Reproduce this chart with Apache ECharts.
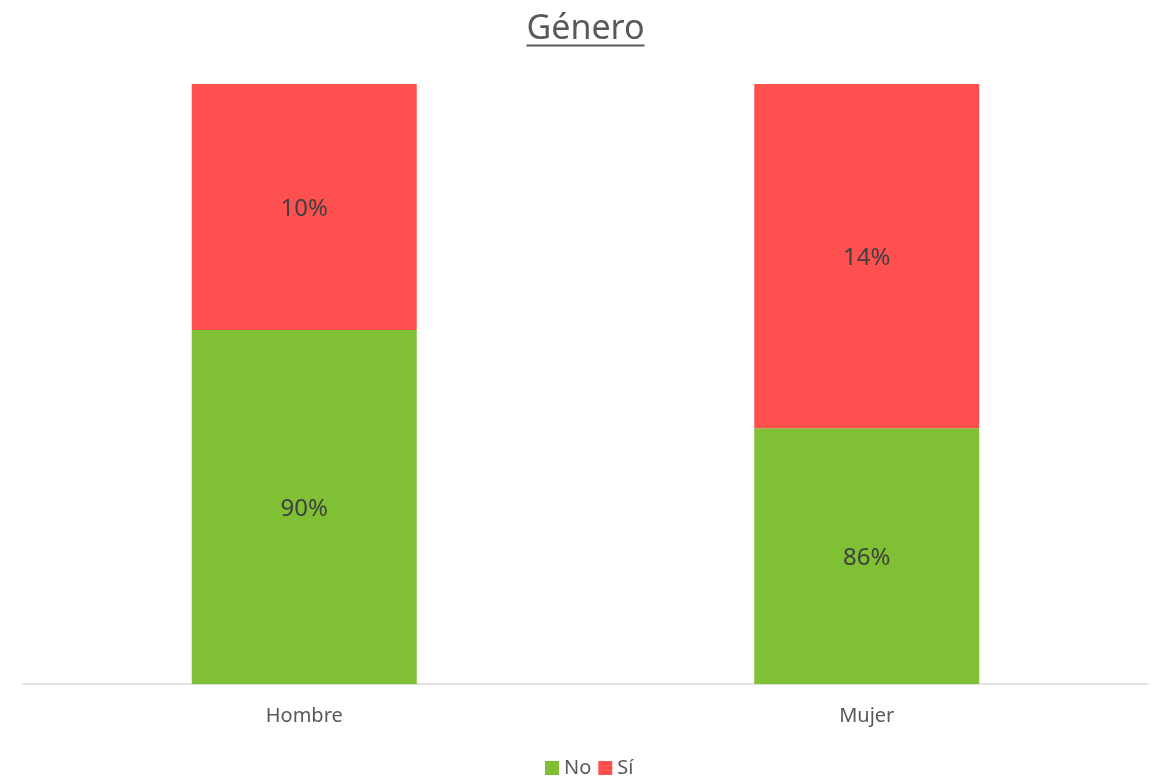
<!DOCTYPE html>
<html>
<head>
<meta charset="utf-8">
<script src="https://cdn.jsdelivr.net/npm/echarts@6/dist/echarts.min.js"></script>
<style>
  html, body { margin: 0; padding: 0; background: #fff; }
  #chart { width: 1153px; height: 779px; }
</style>
</head>
<body>
<div id="chart"></div>
<script>
// Gender breakdown: share answering "No" / "Sí"
const categories = ['Hombre', 'Mujer'];
const seriesNames = ['No', 'Sí'];
const noValues = [90, 86];
const siValues = [10, 14];
const titleText = 'Género';

const FONT = '"Noto Sans", "Open Sans", sans-serif';
const TITLE_SIZE = 34;
const GRID_LEFT = 23, GRID_RIGHT = 5, WIDTH = 1153;
const chart = echarts.init(document.getElementById('chart'));

// measure the title so its underline spans the text exactly
const ctx = document.createElement('canvas').getContext('2d');
ctx.font = TITLE_SIZE + 'px ' + FONT;
const titleWidth = ctx.measureText(titleText).width;
// title and legend are centred over the plot area
const plotCenter = (GRID_LEFT + (WIDTH - GRID_RIGHT)) / 2;

const labelStyle = {
  show: true,
  position: 'inside',
  offset: [0, 2],
  formatter: p => p.value + '%',
  color: '#404040',
  fontSize: 24,
  fontFamily: FONT
};

chart.setOption({
  animation: false,
  graphic: [
    {
      type: 'text',
      x: plotCenter,
      y: 29,
      style: {
        text: titleText,
        fill: '#595959',
        font: TITLE_SIZE + 'px ' + FONT,
        textAlign: 'center',
        textVerticalAlign: 'middle'
      }
    },
    {
      // underline under the title
      type: 'rect',
      shape: { x: plotCenter - titleWidth / 2, y: 44.5, width: titleWidth, height: 2 },
      style: { fill: '#595959' }
    }
  ],
  legend: {
    data: seriesNames,
    bottom: -4,
    left: 540,
    itemWidth: 14,
    itemHeight: 14,
    itemGap: 7,
    icon: 'rect',
    textStyle: { color: '#595959', fontSize: 20, fontFamily: FONT }
  },
  grid: { left: GRID_LEFT, right: GRID_RIGHT, top: 84, bottom: 95 },
  xAxis: {
    type: 'category',
    data: categories,
    axisLine: { lineStyle: { color: '#d9d9d9', width: 1.5 } },
    axisTick: { show: false },
    axisLabel: { color: '#595959', fontSize: 20, fontFamily: FONT, margin: 22 }
  },
  yAxis: {
    type: 'value',
    min: 75.6,
    max: 100,
    show: false,
    splitLine: { show: false }
  },
  series: [
    {
      name: 'No',
      type: 'bar',
      stack: 'total',
      data: noValues,
      barWidth: '40%',
      itemStyle: { color: '#7fc034' },
      label: labelStyle
    },
    {
      name: 'Sí',
      type: 'bar',
      stack: 'total',
      data: siValues,
      barWidth: '40%',
      itemStyle: { color: '#ff5050' },
      label: labelStyle
    }
  ]
});
</script>
</body>
</html>
